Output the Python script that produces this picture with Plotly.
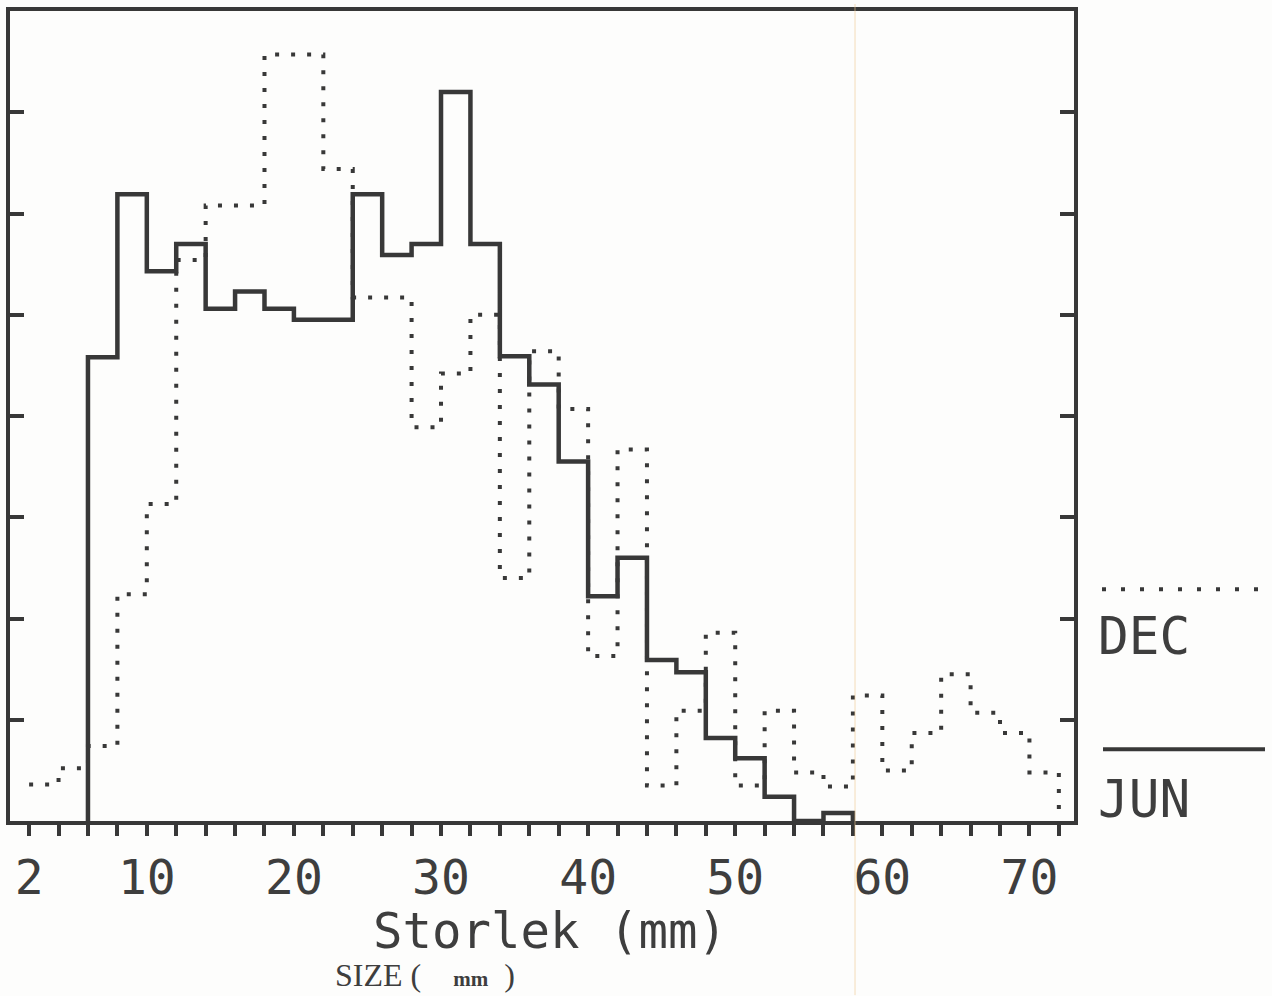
import plotly.graph_objects as go

# ---------------- data ----------------
# left edges of 2-mm size classes
jun_bins = [6, 8, 10, 12, 14, 16, 18, 20, 22, 24, 26, 28, 30, 32, 34, 36, 38,
            40, 42, 44, 46, 48, 50, 52, 54, 56]
jun_values = [4.58, 6.19, 5.43, 5.70, 5.06, 5.23, 5.06, 4.95, 4.95, 6.19, 5.59,
              5.70, 7.20, 5.70, 4.59, 4.31, 3.55, 2.22, 2.60, 1.59, 1.47, 0.82,
              0.62, 0.24, 0.00, 0.08]

dec_bins = [2, 4, 6, 8, 10, 12, 14, 16, 18, 20, 22, 24, 26, 28, 30, 32, 34, 36,
            38, 40, 42, 44, 46, 48, 50, 52, 54, 56, 58, 60, 62, 64, 66, 68, 70]
dec_values = [0.36, 0.52, 0.74, 2.24, 3.13, 5.54, 6.08, 6.08, 7.57, 7.57, 6.44,
              5.17, 5.17, 3.89, 4.42, 5.00, 2.40, 4.64, 4.07, 1.63, 3.67, 0.35,
              1.09, 1.86, 0.35, 1.09, 0.48, 0.34, 1.24, 0.50, 0.87, 1.45, 1.07,
              0.87, 0.48]

bin_width = 2
x_tick_positions = [2, 4, 6, 8, 10, 12, 14, 16, 18, 20, 22, 24, 26, 28, 30, 32,
                    34, 36, 38, 40, 42, 44, 46, 48, 50, 52, 54, 56, 58, 60, 62,
                    64, 66, 68, 70, 72]
x_tick_labels = {2: "2", 10: "10", 20: "20", 30: "30", 40: "40", 50: "50",
                 60: "60", 70: "70"}
y_tick_positions = [1, 2, 3, 4, 5, 6, 7]

x_title = "Storlek (mm)"
x_subtitle = ("SIZE ( \u00a0\u00a0\u00a0<b><span style='font-size:21px'>mm</span></b>"
              "\u00a0 )")
series_names = ["DEC", "JUN"]

# ---------------- styling ----------------
INK = "#383838"
TEXT = "#3e3e3e"
MONO = "DejaVu Sans Mono"

# step outlines: (left edge, value) ... closing at last right edge
jun_x = [jun_bins[0]] + jun_bins + [jun_bins[-1] + bin_width]
jun_y = [0] + jun_values + [0]
dec_x = dec_bins + [dec_bins[-1] + bin_width]
dec_y = dec_values + [0]

fig = go.Figure()
fig.add_trace(go.Scatter(
    x=dec_x, y=dec_y, mode="lines", line_shape="hv", name=series_names[0],
    line=dict(color=INK, width=4, dash="4px,12px"), showlegend=False))
fig.add_trace(go.Scatter(
    x=jun_x, y=jun_y, mode="lines", line_shape="hv", name=series_names[1],
    line=dict(color=INK, width=4.5), showlegend=False))

ticktext = [x_tick_labels.get(v, "") for v in x_tick_positions]

fig.update_xaxes(
    range=[0.70, 73.03], tickmode="array", tickvals=x_tick_positions,
    ticktext=ticktext, ticks="outside", ticklen=11, tickwidth=4, tickcolor=INK,
    showline=True, linecolor=INK, linewidth=4, mirror=True,
    showgrid=False, zeroline=False,
    tickfont=dict(family=MONO, size=48, color=TEXT))
fig.update_yaxes(
    range=[0, 8.0], tickmode="array", tickvals=y_tick_positions,
    ticks="inside", ticklen=14, tickwidth=4, tickcolor=INK,
    showticklabels=False, showline=True, linecolor=INK, linewidth=4,
    mirror="ticks", showgrid=False, zeroline=False)

L, R, T, B = 10, 1074, 7, 821
def px(x):
    return (x - L) / (R - L)
def py(y):
    return (B - y) / (B - T)

annotations = [
    dict(text=x_title, xref="paper", yref="paper", x=px(550), y=py(932),
         xanchor="center", yanchor="middle", showarrow=False,
         font=dict(family=MONO, size=49, color=TEXT)),
    dict(text=x_subtitle, xref="paper", yref="paper", x=px(333), y=py(976),
         xanchor="left", yanchor="middle", showarrow=False,
         font=dict(family="Liberation Serif", size=32, color=TEXT)),
    dict(text=series_names[0], xref="paper", yref="paper", x=px(1096), y=py(636),
         xanchor="left", yanchor="middle", showarrow=False,
         font=dict(family=MONO, size=51, color=TEXT)),
    dict(text=series_names[1], xref="paper", yref="paper", x=px(1096), y=py(799),
         xanchor="left", yanchor="middle", showarrow=False,
         font=dict(family=MONO, size=51, color=TEXT)),
]

shapes = [
    dict(type="line", xref="paper", yref="paper", x0=px(1102), x1=px(1264),
         y0=py(588), y1=py(588), line=dict(color=INK, width=4, dash="4px,15px")),
    dict(type="line", xref="paper", yref="paper", x0=px(1103), x1=px(1265),
         y0=py(749), y1=py(749), line=dict(color=INK, width=4)),
    # faint scanner streak
    dict(type="line", xref="paper", yref="paper", x0=px(855), x1=px(855),
         y0=py(996), y1=py(0), line=dict(color="rgba(240,200,140,0.6)", width=1)),
]

fig.update_layout(
    width=1272, height=996,
    margin=dict(l=L, r=1272 - R, t=T, b=996 - B, pad=0),
    paper_bgcolor="#fdfdfc", plot_bgcolor="#fdfdfc",
    annotations=annotations, shapes=shapes, showlegend=False)

fig.write_html("out.html")
